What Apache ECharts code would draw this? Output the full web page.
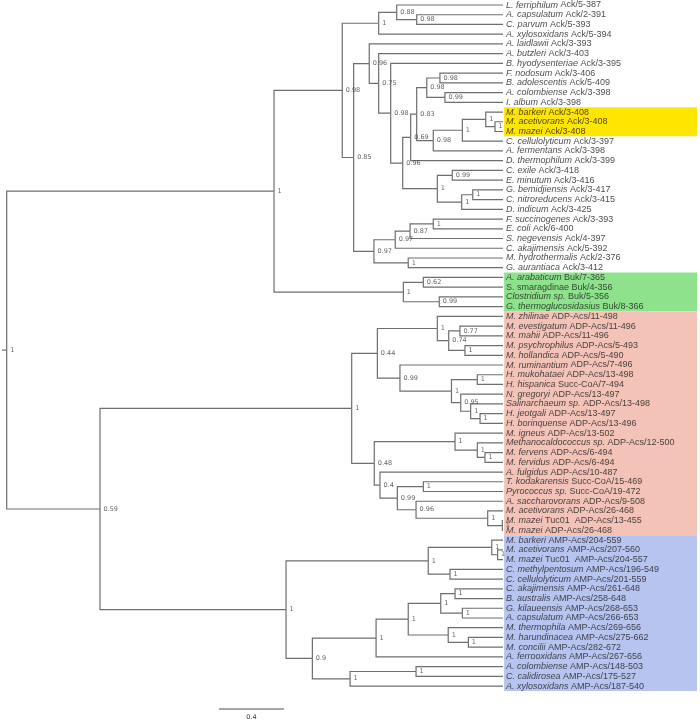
<!DOCTYPE html>
<html><head><meta charset="utf-8">
<script src="https://cdn.jsdelivr.net/npm/echarts@6/dist/echarts.min.js"></script>
<style>html,body{margin:0;padding:0;background:#fff}#chart{width:700px;height:722px}</style>
</head><body><div id="chart"></div>
<script>
// ---------------- DATA ----------------
// Leaf labels, top to bottom: italic part (organism) and upright part (protein/range)
const leafItalic = [
  "L. ferriphilum","A. capsulatum","C. parvum","A. xylosoxidans","A. laidlawii","A. butzleri",
  "B. hyodysenteriae","F. nodosum","B. adolescentis","A. colombiense","I. album","M. barkeri",
  "M. acetivorans","M. mazei","C. cellulolyticum","A. fermentans","D. thermophilum","C. exile",
  "E. minutum","G. bemidjiensis","C. nitroreducens","D. indicum","F. succinogenes","E. coli",
  "S. negevensis","C. akajimensis","M. hydrothermalis","G. aurantiaca",
  "A. arabaticum","","Clostridium sp.","G. thermoglucosidasius",
  "M. zhilinae","M. evestigatum","M. mahii","M. psychrophilus","M. hollandica","M. ruminantium",
  "H. mukohataei","H. hispanica","N. gregoryi","Salinarchaeum sp.","H. jeotgali","H. borinquense",
  "M. igneus","Methanocaldococcus sp.","M. fervens","M. fervidus","A. fulgidus","T. kodakarensis",
  "Pyrococcus sp.","A. saccharovorans","M. acetivorans","M. mazei","M. mazei",
  "M. barkeri","M. acetivorans","M. mazei","C. methylpentosum","C. cellulolyticum","C. akajimensis",
  "B. australis","G. kilaueensis","A. capsulatum","M. thermophila","M. harundinacea","M. concilii",
  "A. ferrooxidans","A. colombiense","C. calidirosea","A. xylosoxidans"
];
const leafTag = [
  "Ack/5-387","Ack/2-391","Ack/5-393","Ack/5-394","Ack/3-393","Ack/3-403",
  "Ack/3-395","Ack/3-406","Ack/5-409","Ack/3-398","Ack/3-398","Ack/3-408",
  "Ack/3-408","Ack/3-408","Ack/3-397","Ack/3-398","Ack/3-399","Ack/3-418",
  "Ack/3-416","Ack/3-417","Ack/3-415","Ack/3-425","Ack/3-393","Ack/6-400",
  "Ack/4-397","Ack/5-392","Ack/2-376","Ack/3-412",
  "Buk/7-365","S. smaragdinae Buk/4-356","Buk/5-356","Buk/8-366",
  "ADP-Acs/11-498","ADP-Acs/11-496","ADP-Acs/11-496","ADP-Acs/5-493","ADP-Acs/5-490","ADP-Acs/7-496",
  "ADP-Acs/13-498","Succ-CoA/7-494","ADP-Acs/13-497","ADP-Acs/13-498","ADP-Acs/13-497","ADP-Acs/13-496",
  "ADP-Acs/13-502","ADP-Acs/12-500","ADP-Acs/6-494","ADP-Acs/6-494","ADP-Acs/10-487","Succ-CoA/15-469",
  "Succ-CoA/19-472","ADP-Acs/9-508","ADP-Acs/26-468","Tuc01  ADP-Acs/13-455","ADP-Acs/26-468",
  "AMP-Acs/204-559","AMP-Acs/207-560","Tuc01  AMP-Acs/204-557","AMP-Acs/196-549","AMP-Acs/201-559","AMP-Acs/261-648",
  "AMP-Acs/258-648","AMP-Acs/268-653","AMP-Acs/266-653","AMP-Acs/269-656","AMP-Acs/275-662","AMP-Acs/282-672",
  "AMP-Acs/267-656","AMP-Acs/148-503","AMP-Acs/175-527","AMP-Acs/187-540"
];
// Tree topology (leaf = row index), internal node label = support, ":x" = node distance from root base
const ackClade = "(((0,(1,2)0.98:2.552)0.88:2.429,3)1:2.318," +
  "((4,(5,(6,(((" +
  "((7,8)0.98:2.695,(9,10)0.99:2.726)0.98:2.614," +
  "(((11,(12,13)1:3.034)1:2.977,14)1:2.833,15)0.98:2.654" +
  ")0.83:2.552,16)0.69:2.515," +
  "((17,18)0.99:2.771,((19,20)1:2.897,21)1:2.829)1:2.679" +
  ")0.96:2.466)0.98:2.392)0.75:2.318)0.96:2.260," +
  "((((22,23)1:2.654,24)0.87:2.511,25)0.97:2.420,(26,27)1:2.500)0.97:2.289" +
  ")0.85:2.164)0.98:2.094";
const bukClade = "((28,29)0.62:2.593,(30,31)0.99:2.691)1:2.470";
const adpClade = "(((32,((33,34)0.77:2.818,(35,36)1:2.849)0.74:2.749)1:2.679," +
  "(37,((38,39)1:2.925,(40,(41,(42,43)1:2.942)1:2.884)0.95:2.823)1:2.766)0.99:2.449)0.44:2.310," +
  "((44,(45,(46,47)1:2.972)1:2.925)1:2.788," +
  "(48,((49,50)1:2.593,(51,(52,(53,54)1:3.079)1:2.989)0.96:2.548)0.99:2.433)0.4:2.326)0.48:2.291)1:2.152";
const ampClade = "(((55,(56,57)1:3.050)1:3.014,(58,59)1:2.757)1:2.623," +
  "(((((60,61)1:2.788,(62,63)1:2.833)1:2.700,(64,(65,66)1:2.870)1:2.746)1:2.500,67)1:2.302," +
  "((68,69)1:2.548,70)1:2.142)0.9:1.910)1:1.748";
const treeNewick = "((" + ackClade + "," + bukClade + ")1:1.674,(" + adpClade + "," + ampClade + ")0.59:0.603)1:0.029";
const tipDistance = 3.083;      // all tips aligned
const rootBase = 0;             // start of the root stub
// Highlighted leaf groups (first row, last row)
const groupRows = [[11, 13], [28, 31], [32, 54], [55, 70]];
const scaleBarLength = 0.4;
const scaleBarLabel = "0.4";

// ---------------- BUILD ----------------
const groupColors = ['#ffe600', '#8ee28c', '#f3c3b8', '#b8c4f0'];
const X_MAX = 4.277;

function parseNewick(str) {
  const s = str.replace(/\s+/g, '');
  let i = 0;
  function node() {
    if (s[i] === '(') {
      i++;
      const children = [node()];
      while (s[i] === ',') { i++; children.push(node()); }
      i++; // ')'
      let lab = ''; while (i < s.length && /[0-9.]/.test(s[i])) lab += s[i++];
      let d = ''; if (s[i] === ':') { i++; while (i < s.length && /[0-9.]/.test(s[i])) d += s[i++]; }
      return { children, support: lab, x: parseFloat(d) };
    }
    let lab = ''; while (i < s.length && /[0-9]/.test(s[i])) lab += s[i++];
    return { leaf: parseInt(lab, 10), x: tipDistance };
  }
  return node();
}
const root = parseNewick(treeNewick);
function setY(n) {
  if (n.children) { n.children.forEach(setY); n.y = (n.children[0].y + n.children[n.children.length - 1].y) / 2; }
  else n.y = n.leaf;
}
setY(root);

const edges = [[rootBase, root.y, root.y, root.x]];
const supports = [];
(function walk(n) {
  if (!n.children) return;
  supports.push({ name: n.support, value: [n.x, n.y] });
  n.children.forEach(c => { edges.push([n.x, n.y, c.y, c.x]); walk(c); });
})(root);

const tips = leafTag.map((t, i) => ({ value: [tipDistance, i] }));
const boxLeft = tipDistance + 0.007;

const chart = echarts.init(document.getElementById('chart'), null, { renderer: 'canvas' });
const hidden = { show: false };
chart.setOption({
  animation: false,
  backgroundColor: '#fff',
  grid: { left: 2, top: 0.135, width: 695, height: 690.83 },
  xAxis: { type: 'value', min: 0, max: X_MAX, axisLine: hidden, axisTick: hidden, axisLabel: hidden, splitLine: hidden },
  yAxis: { type: 'value', min: -0.5, max: leafTag.length - 0.5, inverse: true, axisLine: hidden, axisTick: hidden, axisLabel: hidden, splitLine: hidden },
  series: [
    {
      type: 'custom', z: 2, clip: false, silent: true,
      data: edges,
      encode: { x: [0, 3], y: [1, 2] },
      renderItem(params, api) {
        const a = api.coord([api.value(0), api.value(1)]);
        const b = api.coord([api.value(0), api.value(2)]);
        const c = api.coord([api.value(3), api.value(2)]);
        return { type: 'polyline', shape: { points: [a, b, c] }, style: { stroke: '#6e6e6e', lineWidth: 1.2, fill: 'none' } };
      },
      markArea: {
        silent: true,
        data: groupRows.map((g, k) => [
          { xAxis: boxLeft, yAxis: g[0] - 0.5, itemStyle: { color: groupColors[k] } },
          { xAxis: X_MAX, yAxis: g[1] + 0.5 }
        ])
      }
    },
    {
      type: 'scatter', z: 5, symbolSize: 0, silent: true,
      data: tips,
      label: {
        show: true, position: 'right', distance: 3,
        fontFamily: 'Liberation Sans', fontSize: 9, color: '#1a1a1a',
        formatter: p => {
          const i = p.dataIndex;
          return (leafItalic[i] ? '{i|' + leafItalic[i] + '} ' : '') + leafTag[i];
        },
        rich: { i: { fontStyle: 'italic', fontFamily: 'Liberation Sans', fontSize: 9, color: '#1a1a1a' } }
      }
    },
    {
      type: 'scatter', z: 4, symbolSize: 0, silent: true,
      data: supports,
      label: {
        show: true, position: 'right', distance: 3.5, formatter: '{b}',
        fontFamily: 'DejaVu Sans', fontSize: 6.5, color: '#3a3a3a'
      }
    },
    {
      type: 'custom', z: 3, clip: false, silent: true,
      data: [[1.335, 72.35]],
      encode: { x: 0, y: 1 },
      renderItem(params, api) {
        const p0 = api.coord([api.value(0), api.value(1)]);
        const p1 = api.coord([api.value(0) + scaleBarLength, api.value(1)]);
        return {
          type: 'group', children: [
            { type: 'line', shape: { x1: p0[0], y1: p0[1], x2: p1[0], y2: p1[1] }, style: { stroke: '#8a8a8a', lineWidth: 1.5 } },
            { type: 'text', style: { text: scaleBarLabel, x: (p0[0] + p1[0]) / 2, y: p0[1] + 8, align: 'center', verticalAlign: 'middle', fontFamily: 'DejaVu Sans', fontSize: 6.5, fill: '#3a3a3a' } }
          ]
        };
      }
    }
  ]
});
</script>
</body></html>
